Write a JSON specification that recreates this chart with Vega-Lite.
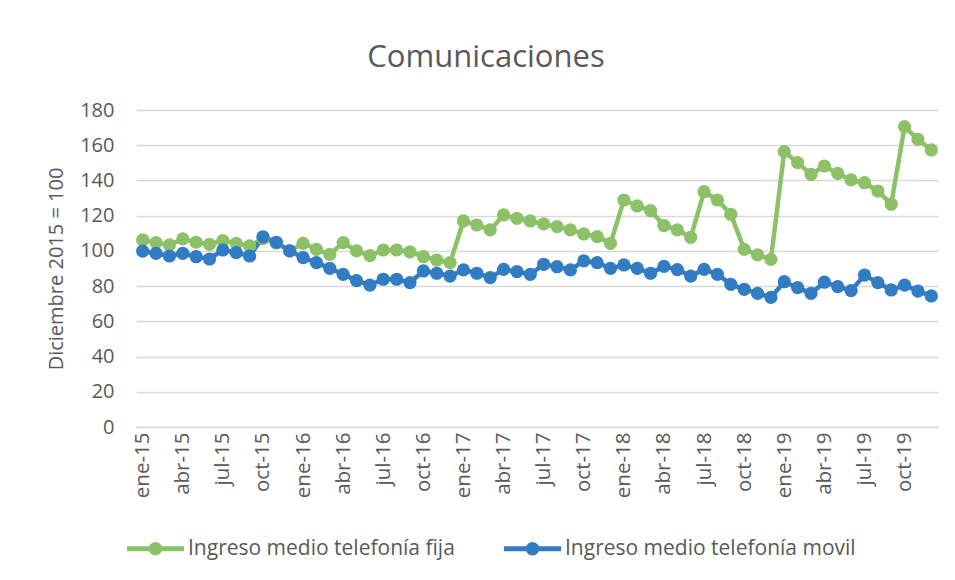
{
 "$schema": "https://vega.github.io/schema/vega-lite/v6.json",
 "width": 802,
 "height": 317,
 "autosize": "none",
 "padding": {"left": 136, "top": 110, "right": 17, "bottom": 153},
 "background": "white",
 "title": {"text": "Comunicaciones", "fontSize": 31, "font": "Open Sans", "fontWeight": "normal", "color": "#595959", "offset": 26, "dx": -51},
 "data": {"values": [
  {"mes":"ene-15","serie":"Ingreso medio telefonía fija","valor":106.2},
  {"mes":"feb-15","serie":"Ingreso medio telefonía fija","valor":104.7},
  {"mes":"mar-15","serie":"Ingreso medio telefonía fija","valor":103.4},
  {"mes":"abr-15","serie":"Ingreso medio telefonía fija","valor":106.8},
  {"mes":"may-15","serie":"Ingreso medio telefonía fija","valor":104.9},
  {"mes":"jun-15","serie":"Ingreso medio telefonía fija","valor":103.7},
  {"mes":"jul-15","serie":"Ingreso medio telefonía fija","valor":105.8},
  {"mes":"ago-15","serie":"Ingreso medio telefonía fija","valor":104.3},
  {"mes":"sep-15","serie":"Ingreso medio telefonía fija","valor":102.8},
  {"mes":"oct-15","serie":"Ingreso medio telefonía fija","valor":107},
  {"mes":"nov-15","serie":"Ingreso medio telefonía fija","valor":104.5},
  {"mes":"dic-15","serie":"Ingreso medio telefonía fija","valor":100},
  {"mes":"ene-16","serie":"Ingreso medio telefonía fija","valor":104.3},
  {"mes":"feb-16","serie":"Ingreso medio telefonía fija","valor":100.9},
  {"mes":"mar-16","serie":"Ingreso medio telefonía fija","valor":98},
  {"mes":"abr-16","serie":"Ingreso medio telefonía fija","valor":104.7},
  {"mes":"may-16","serie":"Ingreso medio telefonía fija","valor":100},
  {"mes":"jun-16","serie":"Ingreso medio telefonía fija","valor":97.3},
  {"mes":"jul-16","serie":"Ingreso medio telefonía fija","valor":100.5},
  {"mes":"ago-16","serie":"Ingreso medio telefonía fija","valor":100.5},
  {"mes":"sep-16","serie":"Ingreso medio telefonía fija","valor":99.5},
  {"mes":"oct-16","serie":"Ingreso medio telefonía fija","valor":96.7},
  {"mes":"nov-16","serie":"Ingreso medio telefonía fija","valor":94.8},
  {"mes":"dic-16","serie":"Ingreso medio telefonía fija","valor":93.3},
  {"mes":"ene-17","serie":"Ingreso medio telefonía fija","valor":117},
  {"mes":"feb-17","serie":"Ingreso medio telefonía fija","valor":114.7},
  {"mes":"mar-17","serie":"Ingreso medio telefonía fija","valor":111.9},
  {"mes":"abr-17","serie":"Ingreso medio telefonía fija","valor":120.4},
  {"mes":"may-17","serie":"Ingreso medio telefonía fija","valor":118.5},
  {"mes":"jun-17","serie":"Ingreso medio telefonía fija","valor":117},
  {"mes":"jul-17","serie":"Ingreso medio telefonía fija","valor":115.3},
  {"mes":"ago-17","serie":"Ingreso medio telefonía fija","valor":113.8},
  {"mes":"sep-17","serie":"Ingreso medio telefonía fija","valor":111.9},
  {"mes":"oct-17","serie":"Ingreso medio telefonía fija","valor":109.6},
  {"mes":"nov-17","serie":"Ingreso medio telefonía fija","valor":108.1},
  {"mes":"dic-17","serie":"Ingreso medio telefonía fija","valor":104.3},
  {"mes":"ene-18","serie":"Ingreso medio telefonía fija","valor":128.9},
  {"mes":"feb-18","serie":"Ingreso medio telefonía fija","valor":125.5},
  {"mes":"mar-18","serie":"Ingreso medio telefonía fija","valor":122.8},
  {"mes":"abr-18","serie":"Ingreso medio telefonía fija","valor":114.4},
  {"mes":"may-18","serie":"Ingreso medio telefonía fija","valor":111.9},
  {"mes":"jun-18","serie":"Ingreso medio telefonía fija","valor":107.7},
  {"mes":"jul-18","serie":"Ingreso medio telefonía fija","valor":133.6},
  {"mes":"ago-18","serie":"Ingreso medio telefonía fija","valor":128.9},
  {"mes":"sep-18","serie":"Ingreso medio telefonía fija","valor":120.8},
  {"mes":"oct-18","serie":"Ingreso medio telefonía fija","valor":100.9},
  {"mes":"nov-18","serie":"Ingreso medio telefonía fija","valor":97.7},
  {"mes":"dic-18","serie":"Ingreso medio telefonía fija","valor":95.2},
  {"mes":"ene-19","serie":"Ingreso medio telefonía fija","valor":156.4},
  {"mes":"feb-19","serie":"Ingreso medio telefonía fija","valor":150.1},
  {"mes":"mar-19","serie":"Ingreso medio telefonía fija","valor":143.5},
  {"mes":"abr-19","serie":"Ingreso medio telefonía fija","valor":148.2},
  {"mes":"may-19","serie":"Ingreso medio telefonía fija","valor":144},
  {"mes":"jun-19","serie":"Ingreso medio telefonía fija","valor":140.3},
  {"mes":"jul-19","serie":"Ingreso medio telefonía fija","valor":138.7},
  {"mes":"ago-19","serie":"Ingreso medio telefonía fija","valor":134},
  {"mes":"sep-19","serie":"Ingreso medio telefonía fija","valor":126.5},
  {"mes":"oct-19","serie":"Ingreso medio telefonía fija","valor":170.5},
  {"mes":"nov-19","serie":"Ingreso medio telefonía fija","valor":163.3},
  {"mes":"dic-19","serie":"Ingreso medio telefonía fija","valor":157.3},
  {"mes":"ene-15","serie":"Ingreso medio telefonía movil","valor":99.9},
  {"mes":"feb-15","serie":"Ingreso medio telefonía movil","valor":98.6},
  {"mes":"mar-15","serie":"Ingreso medio telefonía movil","valor":97.1},
  {"mes":"abr-15","serie":"Ingreso medio telefonía movil","valor":98.6},
  {"mes":"may-15","serie":"Ingreso medio telefonía movil","valor":96.7},
  {"mes":"jun-15","serie":"Ingreso medio telefonía movil","valor":95.4},
  {"mes":"jul-15","serie":"Ingreso medio telefonía movil","valor":100.5},
  {"mes":"ago-15","serie":"Ingreso medio telefonía movil","valor":99},
  {"mes":"sep-15","serie":"Ingreso medio telefonía movil","valor":97.1},
  {"mes":"oct-15","serie":"Ingreso medio telefonía movil","valor":108},
  {"mes":"nov-15","serie":"Ingreso medio telefonía movil","valor":104.9},
  {"mes":"dic-15","serie":"Ingreso medio telefonía movil","valor":100},
  {"mes":"ene-16","serie":"Ingreso medio telefonía movil","valor":96.2},
  {"mes":"feb-16","serie":"Ingreso medio telefonía movil","valor":93.3},
  {"mes":"mar-16","serie":"Ingreso medio telefonía movil","valor":90.1},
  {"mes":"abr-16","serie":"Ingreso medio telefonía movil","valor":86.7},
  {"mes":"may-16","serie":"Ingreso medio telefonía movil","valor":83.1},
  {"mes":"jun-16","serie":"Ingreso medio telefonía movil","valor":80.6},
  {"mes":"jul-16","serie":"Ingreso medio telefonía movil","valor":83.9},
  {"mes":"ago-16","serie":"Ingreso medio telefonía movil","valor":83.9},
  {"mes":"sep-16","serie":"Ingreso medio telefonía movil","valor":82},
  {"mes":"oct-16","serie":"Ingreso medio telefonía movil","valor":88.6},
  {"mes":"nov-16","serie":"Ingreso medio telefonía movil","valor":87.3},
  {"mes":"dic-16","serie":"Ingreso medio telefonía movil","valor":85.7},
  {"mes":"ene-17","serie":"Ingreso medio telefonía movil","valor":89.2},
  {"mes":"feb-17","serie":"Ingreso medio telefonía movil","valor":87.3},
  {"mes":"mar-17","serie":"Ingreso medio telefonía movil","valor":84.8},
  {"mes":"abr-17","serie":"Ingreso medio telefonía movil","valor":89.5},
  {"mes":"may-17","serie":"Ingreso medio telefonía movil","valor":88.2},
  {"mes":"jun-17","serie":"Ingreso medio telefonía movil","valor":86.7},
  {"mes":"jul-17","serie":"Ingreso medio telefonía movil","valor":92.4},
  {"mes":"ago-17","serie":"Ingreso medio telefonía movil","valor":91},
  {"mes":"sep-17","serie":"Ingreso medio telefonía movil","valor":89.2},
  {"mes":"oct-17","serie":"Ingreso medio telefonía movil","valor":94.3},
  {"mes":"nov-17","serie":"Ingreso medio telefonía movil","valor":93.3},
  {"mes":"dic-17","serie":"Ingreso medio telefonía movil","valor":90.1},
  {"mes":"ene-18","serie":"Ingreso medio telefonía movil","valor":92},
  {"mes":"feb-18","serie":"Ingreso medio telefonía movil","valor":90.1},
  {"mes":"mar-18","serie":"Ingreso medio telefonía movil","valor":87.3},
  {"mes":"abr-18","serie":"Ingreso medio telefonía movil","valor":91.2},
  {"mes":"may-18","serie":"Ingreso medio telefonía movil","valor":89.4},
  {"mes":"jun-18","serie":"Ingreso medio telefonía movil","valor":85.7},
  {"mes":"jul-18","serie":"Ingreso medio telefonía movil","valor":89.5},
  {"mes":"ago-18","serie":"Ingreso medio telefonía movil","valor":86.7},
  {"mes":"sep-18","serie":"Ingreso medio telefonía movil","valor":81},
  {"mes":"oct-18","serie":"Ingreso medio telefonía movil","valor":78.2},
  {"mes":"nov-18","serie":"Ingreso medio telefonía movil","valor":75.9},
  {"mes":"dic-18","serie":"Ingreso medio telefonía movil","valor":73.6},
  {"mes":"ene-19","serie":"Ingreso medio telefonía movil","valor":82.5},
  {"mes":"feb-19","serie":"Ingreso medio telefonía movil","valor":79.1},
  {"mes":"mar-19","serie":"Ingreso medio telefonía movil","valor":75.9},
  {"mes":"abr-19","serie":"Ingreso medio telefonía movil","valor":82.2},
  {"mes":"may-19","serie":"Ingreso medio telefonía movil","valor":79.7},
  {"mes":"jun-19","serie":"Ingreso medio telefonía movil","valor":77.4},
  {"mes":"jul-19","serie":"Ingreso medio telefonía movil","valor":86.3},
  {"mes":"ago-19","serie":"Ingreso medio telefonía movil","valor":82},
  {"mes":"sep-19","serie":"Ingreso medio telefonía movil","valor":77.8},
  {"mes":"oct-19","serie":"Ingreso medio telefonía movil","valor":80.6},
  {"mes":"nov-19","serie":"Ingreso medio telefonía movil","valor":77.2},
  {"mes":"dic-19","serie":"Ingreso medio telefonía movil","valor":74.4}
 ]},
 "mark": {"type": "line", "strokeWidth": 4.5, "point": {"filled": true, "size": 175, "opacity": 1}},
 "encoding": {
  "x": {
   "field": "mes", "type": "ordinal", "sort": null,
   "scale": {"type": "point", "padding": 0.5},
   "axis": {
    "values": ["ene-15","abr-15","jul-15","oct-15","ene-16","abr-16","jul-16","oct-16","ene-17","abr-17","jul-17","oct-17","ene-18","abr-18","jul-18","oct-18","ene-19","abr-19","jul-19","oct-19"],
    "title": null, "labelAngle": 270, "labelFontSize": 20.5, "labelFont": "Open Sans", "labelColor": "#595959",
    "ticks": false, "domainColor": "#d9d9d9", "domainWidth": 1.5, "grid": false, "labelPadding": 5, "labelOverlap": false
   }
  },
  "y": {
   "field": "valor", "type": "quantitative",
   "scale": {"domain": [0, 180], "nice": false},
   "axis": {
    "values": [0,20,40,60,80,100,120,140,160,180],
    "grid": true, "gridColor": "#d9d9d9", "gridWidth": 1.5, "domain": false, "ticks": false,
    "labelPadding": 22, "labelFontSize": 20, "labelFont": "Open Sans", "labelColor": "#595959",
    "title": "Diciembre 2015 = 100", "titleFontSize": 20, "titleFont": "Open Sans", "titleFontWeight": "normal", "titleColor": "#595959",
    "titleX": -80, "titleY": 158.5, "titleBaseline": "middle", "titleAngle": 270
   }
  },
  "color": {
   "field": "serie", "type": "nominal", "sort": null,
   "scale": {"domain": ["Ingreso medio telefonía fija", "Ingreso medio telefonía movil"], "range": ["#8CC168", "#317CC3"]},
   "legend": {
    "title": null, "orient": "none", "legendX": -9, "legendY": 410, "direction": "horizontal", "columns": 2,
    "columnPadding": 49, "labelOffset": 4, "padding": 0,
    "symbolType": "M-1,-0.088H1V0.088H-1Z M0.235,0A0.235,0.235,0,1,1,-0.235,0A0.235,0.235,0,1,1,0.235,0Z",
    "symbolSize": 3249, "symbolStrokeWidth": 0,
    "labelFontSize": 21, "labelFont": "Open Sans", "labelColor": "#595959", "labelLimit": 0,
    "encode": {"symbols": {"update": {"fill": {"scale": "color", "field": "value"}, "stroke": {"value": "transparent"}, "opacity": {"value": 1}}}}
   }
  }
 },
 "config": {"view": {"stroke": null}, "font": "Open Sans"}
}
